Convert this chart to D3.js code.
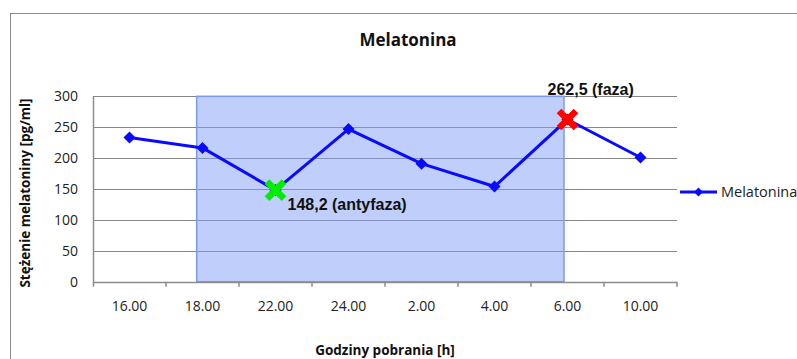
<!DOCTYPE html>
<html>
<head>
<meta charset="utf-8">
<script src="https://cdn.jsdelivr.net/npm/d3@7"></script>
<style>
  body { margin: 0; background: #fff; }
  svg { display: block; }
</style>
</head>
<body>
<svg id="chart" width="797" height="359"></svg>
<script>
// hours of sampling and melatonin levels
var hours = ["16.00", "18.00", "22.00", "24.00", "2.00", "4.00", "6.00", "10.00"];
var melatonina = [233.5, 216.5, 148.2, 247, 191, 154, 262.5, 201];
var yTicks = [0, 50, 100, 150, 200, 250, 300];
var antyfaza = { hour: "22.00", value: 148.2, label: "148,2 (antyfaza)" };
var faza = { hour: "6.00", value: 262.5, label: "262,5 (faza)" };
var shadeFrom = "18.00", shadeTo = "6.00";

var svg = d3.select("#chart"),
    width = +svg.attr("width"),
    height = +svg.attr("height");

var pLeft = 93, pRight = 677, pTop = 96.3, pBottom = 281.7;
var calibri = "'Open Sans', sans-serif",
    arial = "'Liberation Sans', Arial, sans-serif";

svg.append("rect").attr("width", width).attr("height", height).attr("fill", "#fff");
// chart area border
svg.append("rect")
    .attr("x", 10.5).attr("y", 13.5)
    .attr("width", 820).attr("height", 380)
    .attr("fill", "none").attr("stroke", "#8c8c8c").attr("stroke-width", 1);

var x = d3.scaleBand().domain(hours).range([pLeft, pRight]).padding(0);
var y = d3.scaleLinear().domain([0, 300]).range([pBottom, pTop]);
var cx = function(h) { return x(h) + x.bandwidth() / 2; };

// gridlines
svg.append("g").selectAll("line")
    .data(yTicks.slice(1))
    .enter().append("line")
      .attr("x1", pLeft).attr("x2", pRight)
      .attr("y1", function(d) { return Math.round(y(d)) + 0.5; })
      .attr("y2", function(d) { return Math.round(y(d)) + 0.5; })
      .attr("stroke", "#868686").attr("stroke-width", 1.2);

// shaded night period
svg.append("rect")
    .attr("x", cx(shadeFrom) - 5.8)
    .attr("y", y(300))
    .attr("width", (cx(shadeTo) - 3.5) - (cx(shadeFrom) - 5.8))
    .attr("height", y(0) - y(300))
    .attr("fill", "rgb(128,158,246)").attr("fill-opacity", 0.5)
    .attr("stroke", "#7a9af2").attr("stroke-width", 1.5);

// axes lines
svg.append("line")
    .attr("x1", pLeft + 0.5).attr("x2", pLeft + 0.5)
    .attr("y1", pTop).attr("y2", pBottom + 5)
    .attr("stroke", "#8c8c8c").attr("stroke-width", 1.5);
svg.append("line")
    .attr("x1", pLeft).attr("x2", pRight)
    .attr("y1", Math.round(pBottom) + 0.5).attr("y2", Math.round(pBottom) + 0.5)
    .attr("stroke", "#8c8c8c").attr("stroke-width", 1.5);
svg.append("g").selectAll("line")
    .data(hours.slice(1).concat(["end"]))
    .enter().append("line")
      .attr("x1", function(d) { return d == "end" ? pRight : x(d); })
      .attr("x2", function(d) { return d == "end" ? pRight : x(d); })
      .attr("y1", pBottom).attr("y2", pBottom + 5)
      .attr("stroke", "#8c8c8c").attr("stroke-width", 1.5);

var xAxis = svg.append("g")
    .attr("transform", "translate(0," + pBottom + ")")
    .call(d3.axisBottom(x).tickSize(0).tickPadding(19));
xAxis.select(".domain").remove();
xAxis.selectAll("text")
    .style("font-family", calibri).style("font-size", "14px").attr("fill", "#222");

var yAxis = svg.append("g")
    .attr("transform", "translate(" + pLeft + ",0)")
    .call(d3.axisLeft(y).tickValues(yTicks).tickSize(0).tickPadding(15));
yAxis.select(".domain").remove();
yAxis.selectAll("text")
    .style("font-family", calibri).style("font-size", "14px").attr("fill", "#222");

// series line
var line = d3.line()
    .x(function(d, i) { return cx(hours[i]); })
    .y(function(d) { return y(d); });

svg.append("path")
    .datum(melatonina)
    .attr("d", line)
    .attr("fill", "none")
    .attr("stroke", "#0a0aff")
    .attr("stroke-width", 3)
    .attr("stroke-linejoin", "round");

var diamond = d3.symbol().type(d3.symbolSquare).size(72);
svg.append("g").selectAll("path")
    .data(melatonina)
    .enter().append("path")
      .attr("d", diamond)
      .attr("transform", function(d, i) {
        return "translate(" + cx(hours[i]) + "," + y(d) + ") rotate(45)";
      })
      .attr("fill", "#0a0aff");

// phase / antiphase crosses
function cross(p, color) {
  var px = cx(p.hour), py = y(p.value), r = 8.5;
  svg.append("path")
      .attr("d", "M" + (px - r) + "," + (py - r) + "L" + (px + r) + "," + (py + r) +
                 "M" + (px + r) + "," + (py - r) + "L" + (px - r) + "," + (py + r))
      .attr("stroke", color)
      .attr("stroke-width", 6.5);
}
cross(antyfaza, "#00ee00");
cross(faza, "#ff0000");

svg.append("text")
    .attr("x", cx(antyfaza.hour) + 12)
    .attr("y", y(antyfaza.value) + 20)
    .style("font-family", arial).style("font-size", "16px").style("font-weight", "bold")
    .attr("fill", "#111")
    .text(antyfaza.label);

svg.append("text")
    .attr("x", cx(faza.hour) - 20)
    .attr("y", y(faza.value) - 24)
    .style("font-family", arial).style("font-size", "16px").style("font-weight", "bold")
    .attr("fill", "#111")
    .text(faza.label);

// titles
svg.append("text")
    .attr("x", 408).attr("y", 46)
    .attr("text-anchor", "middle")
    .style("font-family", calibri).style("font-size", "17px").style("font-weight", "bold")
    .attr("fill", "#111")
    .text("Melatonina");

svg.append("text")
    .attr("x", 385).attr("y", 355)
    .attr("text-anchor", "middle")
    .style("font-family", calibri).style("font-size", "13.5px").style("font-weight", "bold")
    .attr("fill", "#111")
    .text("Godziny pobrania [h]");

svg.append("text")
    .attr("transform", "translate(30,193) rotate(-90)")
    .attr("text-anchor", "middle")
    .style("font-family", calibri).style("font-size", "13.5px").style("font-weight", "bold")
    .attr("fill", "#111")
    .text("Stężenie melatoniny [pg/ml]");

// legend
var lg = svg.append("g").attr("transform", "translate(680,192)");
lg.append("line").attr("x1", 0).attr("x2", 37).attr("y1", 0).attr("y2", 0)
    .attr("stroke", "#0a0aff").attr("stroke-width", 3);
lg.append("path").attr("d", d3.symbol().type(d3.symbolSquare).size(40))
    .attr("transform", "translate(18.5,0) rotate(45)").attr("fill", "#0a0aff");
lg.append("text").attr("x", 41).attr("y", 5)
    .style("font-family", calibri).style("font-size", "14.5px")
    .attr("fill", "#222")
    .text("Melatonina");
</script>
</body>
</html>
